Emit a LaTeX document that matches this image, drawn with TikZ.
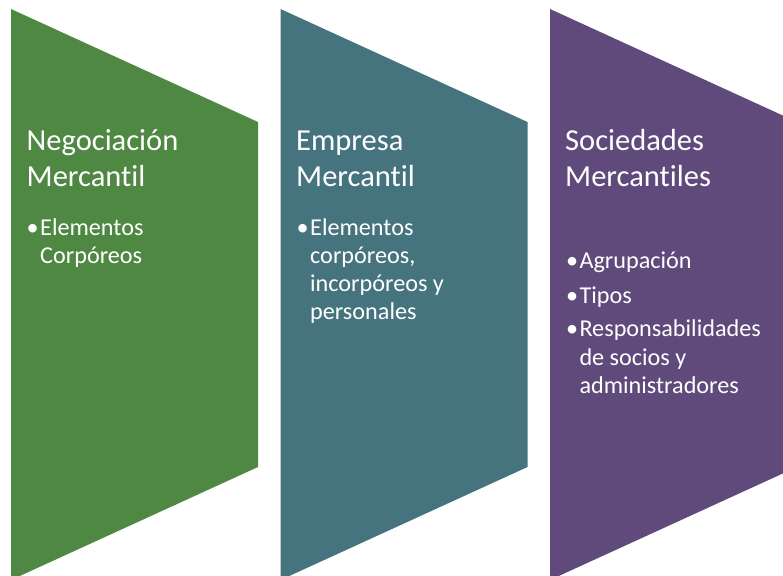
\documentclass[tikz,border=0pt]{standalone}
\usepackage{fontspec}
\setmainfont{Carlito}[Ligatures=NoCommon]
\definecolor{cgreen}{RGB}{79,136,66}
\definecolor{cteal}{RGB}{70,116,126}
\definecolor{cpurple}{RGB}{96,74,123}
\begin{document}
\begin{tikzpicture}[x=1pt,y=-1pt,
  title/.style={text=white, inner sep=0pt, anchor=base west, align=left,
    font=\fontsize{30.5}{36.7}\selectfont},
  item/.style={text=white, inner sep=0pt, anchor=base west, align=left,
    font=\fontsize{24.2}{28.3}\selectfont},
  bul/.style={text=white, inner sep=0pt, anchor=base west,
    font=\fontsize{24.2}{28.3}\selectfont}]
\useasboundingbox (0,0) rectangle (783,575);
\clip (0,0) rectangle (783,575);
\fill[cgreen]  (11,9)  -- (258,122) -- (258,467) -- (11,580) -- cycle;
\fill[cteal]   (280.5,9) -- (527.5,122) -- (527.5,467) -- (280.5,580) -- cycle;
\fill[cpurple] (550,9) -- (797,122) -- (797,467) -- (550,580) -- cycle;
% shape 1 (multi-line nodes are anchored at the baseline of their last line)
\node[title] (t1) at (26.5,186.7) {Negociación\\Mercantil};
\node[bul] (b1) at (26.5,235) {•};
\node[item] (i1) at (40,263.3) {Elementos\\Corpóreos};
% shape 2
\node[title] (t2) at (296,186.7) {Empresa\\Mercantil};
\node[bul] (b2) at (296.5,235) {•};
\node[item] (i2) at (310,319.9) {Elementos\\corpóreos,\\incorpóreos y\\personales};
% shape 3
\node[title] (t3) at (565,186.7) {Sociedades\\Mercantiles};
\node[bul] (b3a) at (566,268.3) {•};
\node[item] (i3a) at (579.3,268.3) {Agrupación};
\node[bul] (b3b) at (566,303.3) {•};
\node[item] (i3b) at (579.3,303.3) {Tipos};
\node[bul] (b3c) at (566,336.7) {•};
\node[item] (i3c) at (579.3,393.3) {Responsabilidades\\de socios y\\administradores};
\end{tikzpicture}
\end{document}
